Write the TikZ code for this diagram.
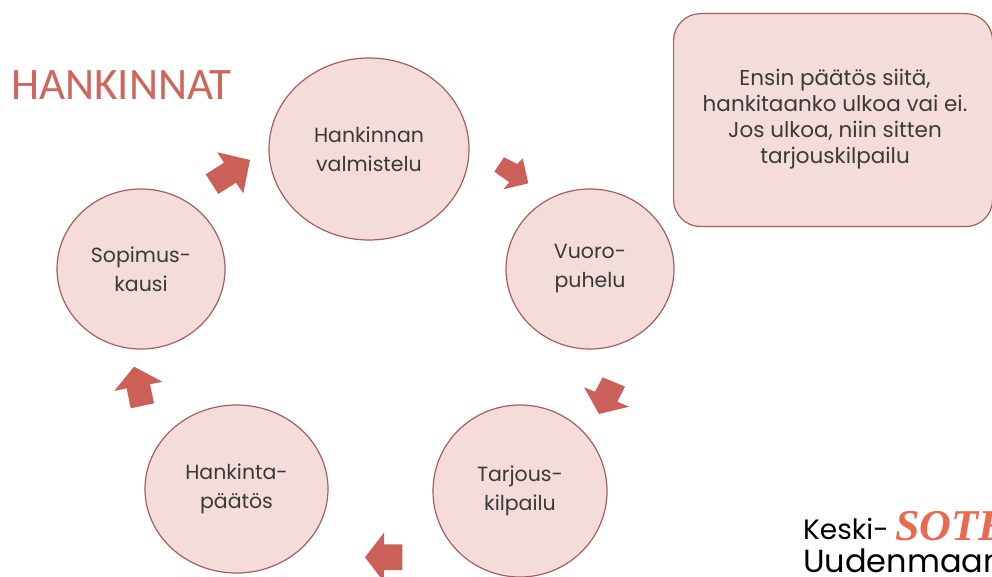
\documentclass[tikz,border=0pt]{standalone}
\usepackage{fontspec}
\setmainfont{Poppins}
\newfontfamily\titlefont{Carlito}
\newfontfamily\logofont{Liberation Serif}
\usetikzlibrary{shapes.geometric}
\definecolor{fillpink}{HTML}{F3DCDA}
\definecolor{edgered}{HTML}{A85F5B}
\definecolor{arrowred}{HTML}{CB6058}
\definecolor{titlered}{HTML}{CF665E}
\definecolor{bodytext}{HTML}{3A3A3A}
\definecolor{sotered}{HTML}{EA6A50}
\tikzset{
  stage/.style={ellipse,draw=edgered,fill=fillpink,line width=1.2pt,inner sep=0pt,align=center,text=bodytext,font=\fontsize{20.5}{29}\selectfont},
  note/.style={rectangle,rounded corners=27pt,draw=edgered,fill=fillpink,line width=1.2pt,align=center,text=bodytext},
  blockarrow/.style={fill=arrowred,draw=none},
  logotext/.style={anchor=west,inner sep=0pt,text=black}
}
\begin{document}
\begin{tikzpicture}[x=1pt,y=-1pt]
\useasboundingbox (0,0) rectangle (992,577);
\clip (0,0) rectangle (992,577);
\fill[white] (0,0) rectangle (992,577);
\node[stage,minimum width=200pt,minimum height=182pt] (valm) at (369,149) {Hankinnan\\valmistelu};
\node[stage,minimum width=168pt,minimum height=160pt] (vuoro) at (590,269) {Vuoro-\\puhelu};
\node[stage,minimum width=174pt,minimum height=172pt] (tarj) at (520,491) {Tarjous-\\kilpailu};
\node[stage,minimum width=183pt,minimum height=168pt] (paat) at (236.5,489) {Hankinta-\\päätös};
\node[stage,minimum width=168pt,minimum height=160pt] (sop) at (141,269) {Sopimus-\\kausi};
\node[note,minimum width=319pt,minimum height=213pt,anchor=north west] (info) at (673,13) {};
\node[align=center,text=bodytext,font=\fontsize{21.5}{26}\selectfont,anchor=north] (infotext) at (835,66) {Ensin päätös siitä,\\hankitaanko ulkoa vai ei.\\Jos ulkoa, niin sitten\\tarjouskilpailu};
\node[anchor=west,inner sep=0pt,text=titlered,font=\titlefont\fontsize{45}{45}\selectfont] (title) at (11,85) {HANKINNAT};
\fill[blockarrow] (205.7,174.3)--(218.3,194)--(236,182.7)--(243.3,193.3)--(250,160)--(217.3,152.3)--(224,162.7)--cycle;
\fill[blockarrow] (504,157.3)--(494.3,171.7)--(509.3,182.3)--(503.3,189.3)--(528.3,183.3)--(522.7,158.3)--(517.3,164)--cycle;
\fill[blockarrow] (625,386.7)--(602.7,377.3)--(595,391.7)--(584,387.3)--(599,414)--(629,406.7)--(617.3,401.7)--cycle;
\fill[blockarrow] (402.3,544.3)--(384,544.3)--(384,532.7)--(365,557.3)--(384,582)--(384,570)--(402.3,570)--cycle;
\fill[blockarrow] (154,403.3)--(150,384.3)--(162.3,381.7)--(134,366.7)--(114.3,391)--(126.7,388.3)--(130.7,408.3)--cycle;
\node[logotext,font=\fontsize{28}{28}\selectfont] (keski) at (803,529) {Keski-};
\node[logotext,font=\fontsize{32}{32}\selectfont] (uusi) at (803,561) {Uudenmaan};
\node[anchor=west,inner sep=0pt,text=sotered,font=\logofont\bfseries\itshape\fontsize{44}{44}\selectfont] (sote) at (895,526) {SOTE};
\end{tikzpicture}
\end{document}
